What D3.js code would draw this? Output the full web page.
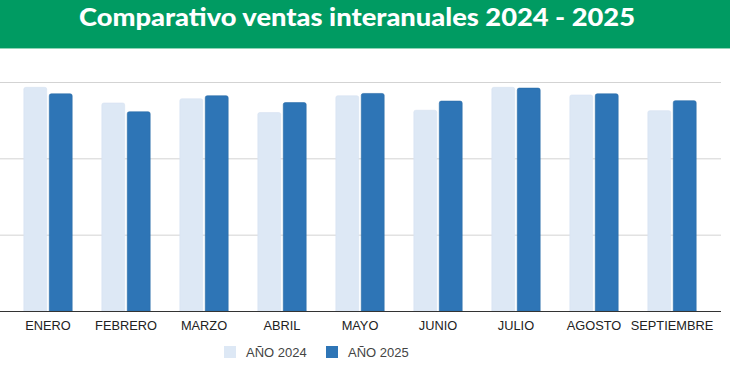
<!DOCTYPE html>
<html>
<head>
<meta charset="utf-8">
<script src="https://cdn.jsdelivr.net/npm/d3@7"></script>
<style>
  body { margin: 0; background: #fff; }
  svg { display: block; }
</style>
</head>
<body>
<div id="chart"></div>
<script>
let meses = ["ENERO", "FEBRERO", "MARZO", "ABRIL", "MAYO", "JUNIO", "JULIO", "AGOSTO", "SEPTIEMBRE"];
let ventas2024 = [58.6, 54.5, 55.6, 52.0, 56.4, 52.6, 58.6, 56.6, 52.5];
let ventas2025 = [56.9, 52.2, 56.4, 54.6, 57.0, 55.0, 58.4, 56.9, 55.1];
let series = ["AÑO 2024", "AÑO 2025"];
let yTicks = [0, 20, 40, 60];

let w = 730;
let h = 377;
let colores = ["#dde8f5", "#2e75b6"];

let svg = d3.select("#chart")
    .append("svg")
    .attr("width", w)
    .attr("height", h);

// cabecera
svg.append("rect")
    .attr("x", 0).attr("y", 0)
    .attr("width", w).attr("height", 48)
    .attr("fill", "#009b62");
svg.append("rect")
    .attr("x", 0).attr("y", 48)
    .attr("width", w).attr("height", 1)
    .attr("fill", "#8fd3b6");
svg.append("text")
    .text("Comparativo ventas interanuales 2024 - 2025")
    .attr("x", 357)
    .attr("y", 26)
    .attr("text-anchor", "middle")
    .attr("textLength", 556)
    .attr("lengthAdjust", "spacingAndGlyphs")
    .attr("font-family", "Lato")
    .attr("font-weight", 900)
    .attr("font-size", "24px")
    .attr("fill", "#fff");

let x = d3.scaleBand()
    .domain(meses)
    .range([9, 711])
    .paddingInner(0.38)
    .paddingOuter(0.19);

let x1 = d3.scaleBand()
    .domain([0, 1])
    .range([0, x.bandwidth()])
    .paddingInner(0.1);

let y = d3.scaleLinear()
    .domain([0, 60])
    .range([311, 82]);

// lineas de cuadricula
svg.selectAll("line.grid")
    .data(yTicks.slice(1))
    .enter()
    .append("line")
    .attr("class", "grid")
    .attr("x1", 0)
    .attr("x2", 721)
    .attr("y1", d => y(d) + 0.5)
    .attr("y2", d => y(d) + 0.5)
    .attr("stroke", "#d3d3d3")
    .attr("stroke-width", 1);

function topRounded(x0, y0, bw, bh, r) {
    return "M" + x0 + "," + (y0 + bh) +
        "V" + (y0 + r) +
        "Q" + x0 + "," + y0 + " " + (x0 + r) + "," + y0 +
        "H" + (x0 + bw - r) +
        "Q" + (x0 + bw) + "," + y0 + " " + (x0 + bw) + "," + (y0 + r) +
        "V" + (y0 + bh) + "Z";
}

let filas = [];
meses.forEach(function (m, i) {
    filas.push({ mes: m, s: 0, v: ventas2024[i] });
    filas.push({ mes: m, s: 1, v: ventas2025[i] });
});

svg.selectAll("path.bar")
    .data(filas)
    .enter()
    .append("path")
    .attr("class", "bar")
    .attr("d", function (d) {
        let bx = x(d.mes) + x1(d.s);
        return topRounded(bx, y(d.v), x1.bandwidth(), y(0) - y(d.v), 2);
    })
    .attr("fill", d => colores[d.s])
    .attr("stroke", d => d.s ? "#2a6ba8" : "#d6e3f2")
    .attr("stroke-width", 0.6);

// eje base
svg.append("line")
    .attr("x1", 0).attr("x2", 721)
    .attr("y1", 311.5).attr("y2", 311.5)
    .attr("stroke", "#333")
    .attr("stroke-width", 1);

svg.selectAll("text.mes")
    .data(meses)
    .enter()
    .append("text")
    .attr("class", "mes")
    .text(d => d)
    .attr("x", d => x(d) + x.bandwidth() / 2)
    .attr("y", 329.5)
    .attr("text-anchor", "middle")
    .attr("font-family", "Liberation Sans, Arial, sans-serif")
    .attr("font-size", "12.8px")
    .attr("fill", "#222");

// leyenda
let legX = [224, 326];
let leg = svg.selectAll("g.leg")
    .data(series)
    .enter()
    .append("g")
    .attr("class", "leg")
    .attr("transform", (d, i) => "translate(" + legX[i] + ",346)");
leg.append("rect")
    .attr("width", 12).attr("height", 12)
    .attr("fill", (d, i) => colores[i]);
leg.append("text")
    .text(d => d)
    .attr("x", 22)
    .attr("y", 11)
    .attr("font-family", "Liberation Sans, Arial, sans-serif")
    .attr("font-size", "13px")
    .attr("fill", "#444");
</script>
</body>
</html>
